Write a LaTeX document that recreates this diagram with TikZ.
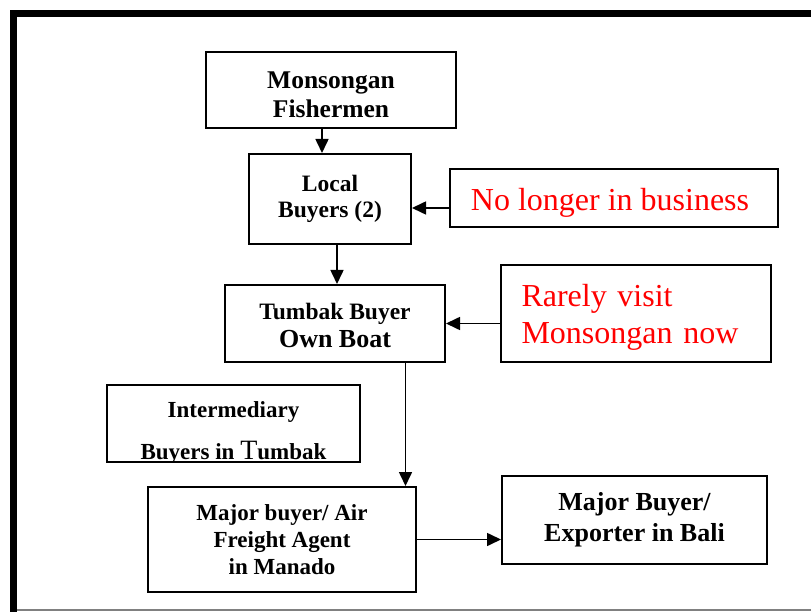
\documentclass[tikz,border=0pt]{standalone}
\usepackage{fontspec}
\setmainfont{Liberation Serif}
\usetikzlibrary{arrows.meta}
\begin{document}
\begin{tikzpicture}[x=1pt,y=-1pt,
  box/.style={draw, line width=2pt, rectangle, inner sep=0pt, align=center},
  note/.style={box, text=red, font=\fontsize{32}{37}\selectfont},
  arr/.style={line width=1.6pt, -{Triangle[length=14pt,width=13pt]}},
]
\useasboundingbox (0,0) rectangle (811,612);
% page frame
\fill (10,10) rectangle (811,17);
\fill (10,10) rectangle (17,612);
\draw[gray, line width=2pt] (17,610) -- (811,610);

% boxes (a zero-width rule in a first line lowers the text block)
\node[box, minimum width=250pt, minimum height=76pt,
      font=\fontsize{25.5}{29}\selectfont\bfseries] (fish) at (331,90)
      {\rule{0pt}{26.5pt}Monsongan\\Fishermen};
\node[box, minimum width=162pt, minimum height=90pt,
      font=\fontsize{23.5}{26}\selectfont\bfseries] (lb) at (330,199) {Local\\Buyers (2)};
\node[box, minimum width=220pt, minimum height=77pt, font=\bfseries] (tb) at (335,323.5)
      {\fontsize{23.5}{26}\selectfont\rule{0pt}{20pt}Tumbak Buyer\\[4pt]\fontsize{26}{26}\selectfont Own Boat};
\node[note, minimum width=328pt, minimum height=58pt] (gone) at (614,198)
      {\rule{0pt}{32pt}No longer in business\kern8pt};
\node[note, minimum width=270pt, minimum height=97pt, text width=229pt, align=left] (rare) at (636,313.5)
      {\rule{0pt}{29pt}Rarely visit\\Monsongan now};
\node[box, minimum width=253pt, minimum height=77pt] (ib) at (233.5,423) {};
\begin{scope}
  \clip ([shift={(1pt,-1pt)}]ib.north west) rectangle ([shift={(-1pt,1pt)}]ib.south east);
  \node[anchor=north, inner sep=0pt, align=center, font=\fontsize{23}{27}\selectfont\bfseries]
    (ibtext) at (233.5,401) {Intermediary\\[15pt]Buyers in {\mdseries\fontsize{28}{27}\selectfont T}umbak};
\end{scope}
\node[box, minimum width=268pt, minimum height=105pt,
      font=\fontsize{23}{27}\selectfont\bfseries] (mb) at (282,539.5)
      {Major buyer/ Air\\Freight Agent\\in Manado};
\node[box, minimum width=265pt, minimum height=88pt,
      font=\fontsize{26}{31}\selectfont\bfseries] (bali) at (634.5,520)
      {Major Buyer/\\Exporter in Bali};

% connectors
\coordinate (a1) at ([xshift=-9pt]fish.south);
\draw[arr] (a1) -- (a1 |- lb.north);
\coordinate (a2) at ([xshift=7pt]lb.south);
\draw[arr] (a2) -- (a2 |- tb.north);
\coordinate (a3) at ([yshift=-10pt]gone.west);
\draw[arr] (a3) -- (a3 -| lb.east);
\draw[arr] (rare.west |- tb.east) -- (tb.east);
\coordinate (a4) at ([xshift=-11.5pt]mb.north east);
\draw[arr] (a4 |- tb.south) -- (a4);
\draw[arr] (mb.east) -- (mb.east -| bali.west);
\end{tikzpicture}
\end{document}
